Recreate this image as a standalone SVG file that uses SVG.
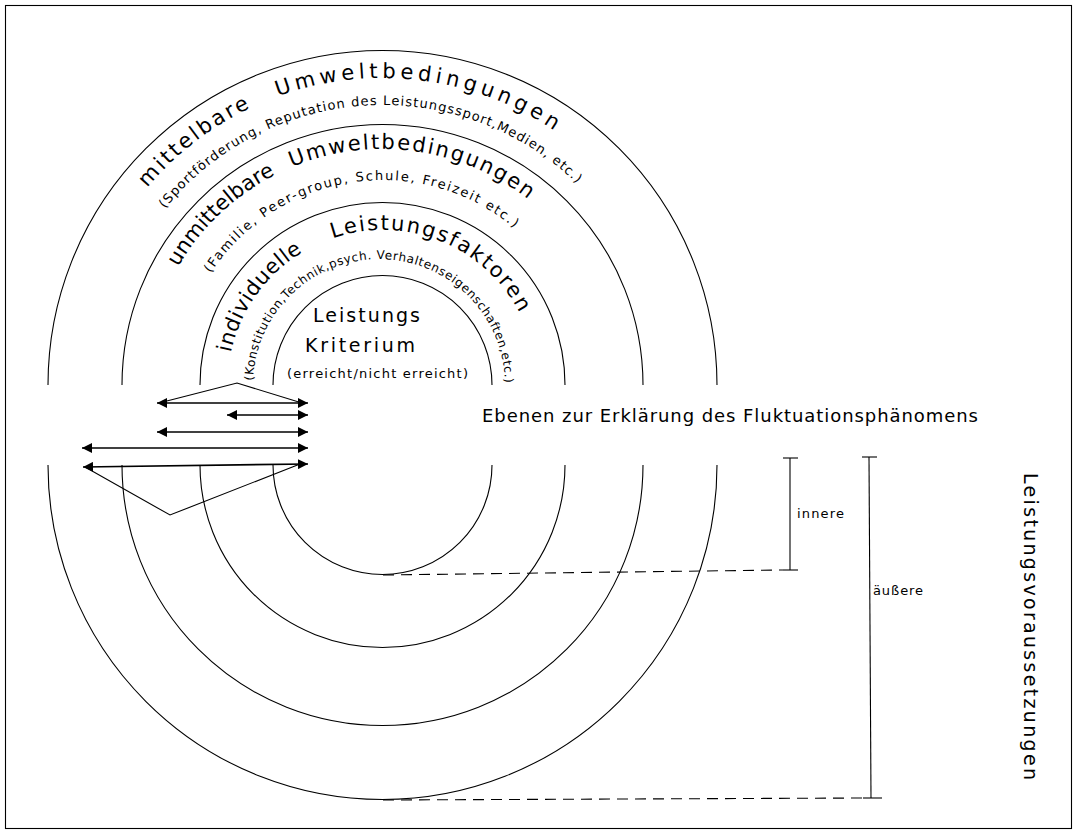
<svg xmlns="http://www.w3.org/2000/svg" width="1078" height="835" viewBox="0 0 1078 835">
  <style>
    .ring{fill:none;stroke:#000;stroke-width:1.1}
    .line{fill:none;stroke:#000;stroke-width:1.1}
    .arrow{fill:none;stroke:#000;stroke-width:1.7}
    .dash{fill:none;stroke:#000;stroke-width:1.1;stroke-dasharray:11 7}
    .t{font-family:"DejaVu Sans","Liberation Sans",sans-serif;fill:#000}
    .big{font-size:21px}
    .mid{font-size:19px}
    .sm{font-size:13px}
    .xs{font-size:12px}
  </style>
  <defs>
    <marker id="head" viewBox="0 0 10 10" refX="10" refY="5" markerWidth="10" markerHeight="10" markerUnits="userSpaceOnUse" orient="auto-start-reverse">
      <path d="M0,0 L10,5 L0,10 z" fill="#000"/>
    </marker>
    <!-- baselines for the curved ring labels, centre (382.5,385) -->
    <path id="arcA" d="M147.3,187.7 A307,307 0 0 1 554.2,130.5"/>
    <path id="arcB" d="M164.9,208.8 A280,280 0 0 1 577.0,183.6"/>
    <path id="arcC" d="M178.1,267 A236,236 0 0 1 527.8,199.0"/>
    <path id="arcD" d="M210.6,273.3 A205,205 0 0 1 514.3,228.0"/>
    <path id="arcE" d="M230.9,352.8 A155,155 0 0 1 519.4,312.2"/>
    <path id="arcF" d="M253.1,380.6 A126,126 0 0 1 505.0,382.8"/>
  </defs>

  <rect x="5.5" y="5.5" width="1066" height="823" fill="none" stroke="#000" stroke-width="1.1"/>

  <!-- outer ring: mediated environment -->
  <g id="ring-mittelbar">
    <path class="ring" d="M48,385 A334.5,334.5 0 0 1 717,385"/>
    <path class="ring" d="M48,465 A334.5,334.5 0 0 0 717,465"/>
    <text class="t big"><textPath href="#arcA" startOffset="0" textLength="131" lengthAdjust="spacing">mittelbare</textPath></text>
    <text class="t big"><textPath href="#arcA" startOffset="161" textLength="289" lengthAdjust="spacing">Umweltbedingungen</textPath></text>
    <text class="t sm"><textPath href="#arcB" textLength="464" lengthAdjust="spacing">(Sportförderung, Reputation des Leistungssport,Medien, etc.)</textPath></text>
  </g>

  <!-- third ring: immediate environment -->
  <g id="ring-unmittelbar">
    <path class="ring" d="M122,385 A260.5,260.5 0 0 1 643,385"/>
    <path class="ring" d="M122,465 A260.5,260.5 0 0 0 643,465"/>
    <text class="t big"><textPath href="#arcC" startOffset="0" textLength="136" lengthAdjust="spacing">unmittelbare</textPath></text>
    <text class="t big"><textPath href="#arcC" startOffset="154" textLength="250" lengthAdjust="spacing">Umweltbedingungen</textPath></text>
    <text class="t sm"><textPath href="#arcD" textLength="347" lengthAdjust="spacing">(Familie, Peer-group, Schule, Freizeit etc.)</textPath></text>
  </g>

  <!-- second ring: individual factors -->
  <g id="ring-individuell">
    <path class="ring" d="M200,385 A182.5,182.5 0 0 1 565,385"/>
    <path class="ring" d="M200,465 A182.5,182.5 0 0 0 565,465"/>
    <text class="t big"><textPath href="#arcE" startOffset="0" textLength="127" lengthAdjust="spacing">individuelle</textPath></text>
    <text class="t big"><textPath href="#arcE" startOffset="160" textLength="219" lengthAdjust="spacing">Leistungsfaktoren</textPath></text>
    <text class="t xs"><textPath href="#arcF" textLength="389" lengthAdjust="spacing">(Konstitution,Technik,psych. Verhaltenseigenschaften,etc.)</textPath></text>
  </g>

  <!-- core: performance criterion -->
  <g id="ring-kriterium">
    <path class="ring" d="M273,385 A109.5,109.5 0 0 1 492,385"/>
    <path class="ring" d="M273,465 A109.5,109.5 0 0 0 492,465"/>
    <text class="t mid" x="313" y="322" textLength="107" lengthAdjust="spacing">Leistungs</text>
    <text class="t mid" x="305" y="352" textLength="110" lengthAdjust="spacing">Kriterium</text>
    <text class="t sm" x="287" y="378" textLength="181" lengthAdjust="spacing">(erreicht/nicht erreicht)</text>
  </g>

  <g id="title">
    <text class="t" style="font-size:18px" x="482" y="422" textLength="496" lengthAdjust="spacing">Ebenen zur Erklärung des Fluktuationsphänomens</text>
  </g>

  <!-- level arrows on the left -->
  <g id="connectors">
    <line class="arrow" x1="157" y1="403" x2="308" y2="403" marker-start="url(#head)" marker-end="url(#head)"/>
    <line class="arrow" x1="227" y1="415" x2="308" y2="415" marker-start="url(#head)" marker-end="url(#head)"/>
    <line class="arrow" x1="157" y1="432" x2="308" y2="432" marker-start="url(#head)" marker-end="url(#head)"/>
    <line class="arrow" x1="82" y1="448" x2="308" y2="448" marker-start="url(#head)" marker-end="url(#head)"/>
    <line class="arrow" x1="83" y1="467" x2="308" y2="464" marker-start="url(#head)" marker-end="url(#head)"/>
    <polyline class="line" points="159,403 237,383 302,403"/>
    <polyline class="line" points="85,467 170,515 300,464"/>

    <!-- dimension brackets -->
    <line class="dash" x1="383" y1="575" x2="783" y2="570"/>
    <line class="dash" x1="383" y1="800" x2="864" y2="798"/>
    <line class="line" x1="790" y1="458" x2="790" y2="570"/>
    <line class="line" x1="783" y1="458" x2="798" y2="458"/>
    <line class="line" x1="783" y1="570" x2="798" y2="570"/>
    <line class="line" x1="869" y1="457" x2="871" y2="798"/>
    <line class="line" x1="862" y1="457" x2="877" y2="457"/>
    <line class="line" x1="863" y1="798" x2="882" y2="798"/>
  </g>

  <g id="bracket-labels">
    <text class="t sm" x="797" y="518" textLength="47" lengthAdjust="spacing">innere</text>
    <text class="t sm" x="873" y="595" textLength="50" lengthAdjust="spacing">äußere</text>
    <text class="t" style="font-size:19px" transform="translate(1024,473) rotate(90)" textLength="307" lengthAdjust="spacing">Leistungsvoraussetzungen</text>
  </g>
</svg>
